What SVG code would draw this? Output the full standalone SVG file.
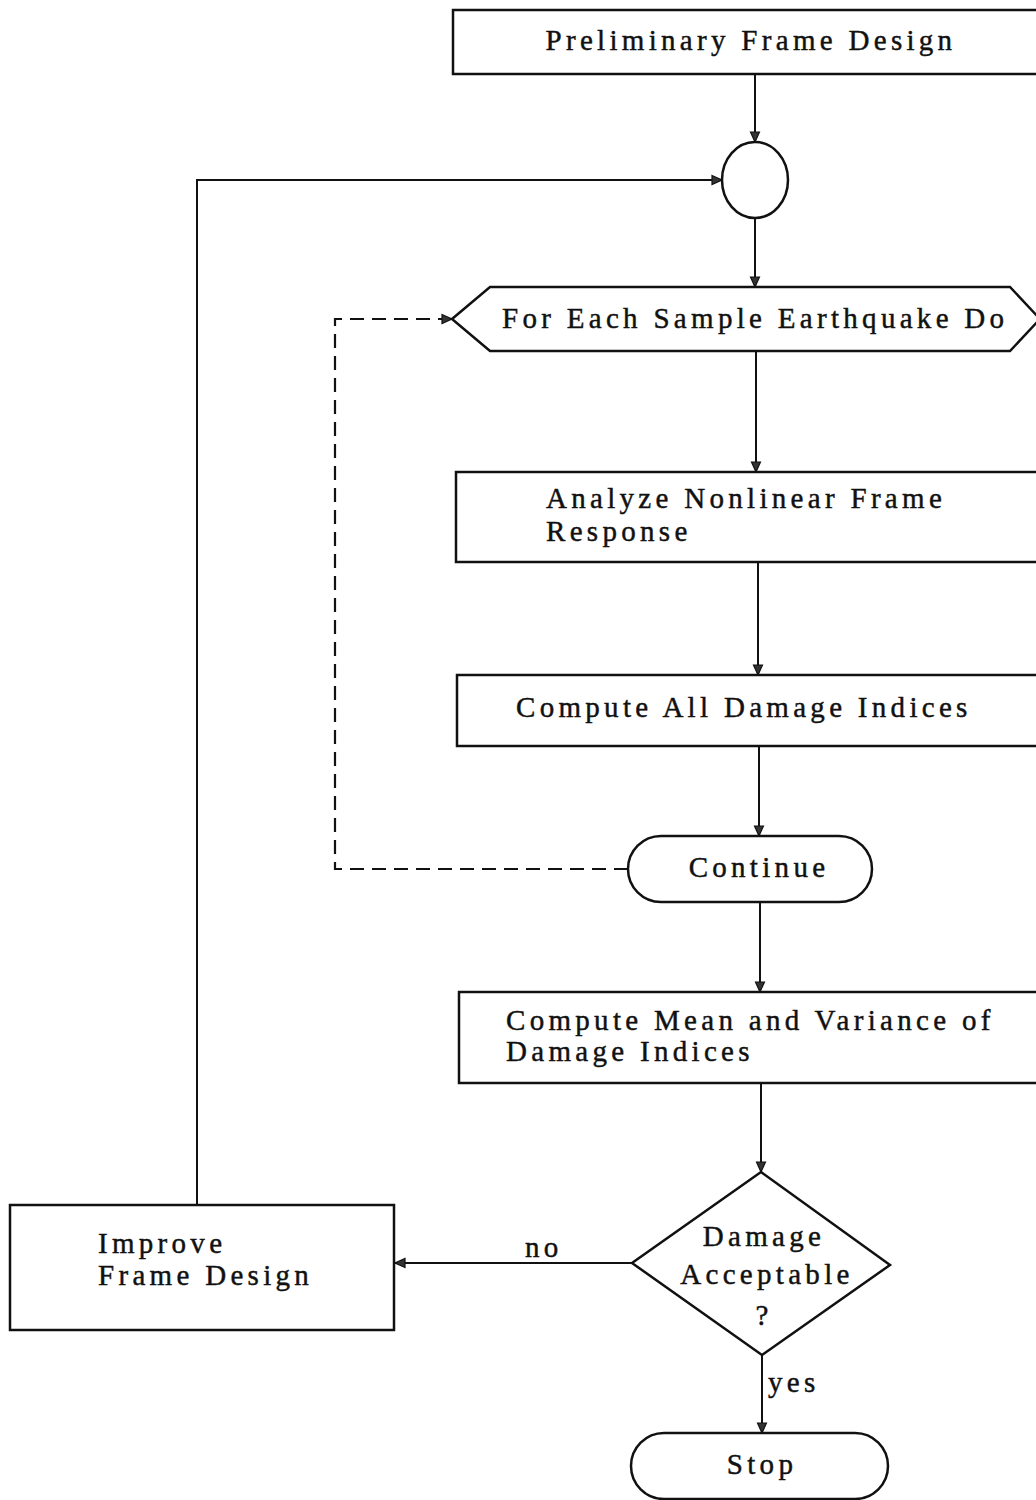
<svg xmlns="http://www.w3.org/2000/svg" width="1036" height="1500" viewBox="0 0 1036 1500">
<style>
.box{fill:#fff;stroke:#111;stroke-width:2.5}
.ln{fill:none;stroke:#111;stroke-width:2}
.dash{fill:none;stroke:#111;stroke-width:2.2;stroke-dasharray:14,8}
.t{font-family:"Liberation Serif","Times New Roman",serif;font-size:29px;letter-spacing:4.3px;fill:#111;stroke:#111;stroke-width:0.45}
.c{text-anchor:middle}
</style>
<defs>
<marker id="ah" viewBox="0 0 12 12" refX="11" refY="6" markerWidth="12" markerHeight="12" markerUnits="userSpaceOnUse" orient="auto">
<path d="M1,1.5 L11,6 L1,10.5 Z" fill="#333" stroke="#111" stroke-width="1.2"/>
</marker>
</defs>
<rect width="1036" height="1500" fill="#fff"/>
<g id="connectors">
<line class="ln" x1="755" y1="74" x2="755" y2="142" marker-end="url(#ah)"/>
<polyline class="ln" points="197,1205 197,180 722,180" marker-end="url(#ah)"/>
<line class="ln" x1="755" y1="218" x2="755" y2="287" marker-end="url(#ah)"/>
<polyline class="dash" points="628,869 335,869 335,319 452,319" marker-end="url(#ah)"/>
<line class="ln" x1="756" y1="351" x2="756" y2="472" marker-end="url(#ah)"/>
<line class="ln" x1="758" y1="562" x2="758" y2="675" marker-end="url(#ah)"/>
<line class="ln" x1="759" y1="746" x2="759" y2="836" marker-end="url(#ah)"/>
<line class="ln" x1="760" y1="902" x2="760" y2="992" marker-end="url(#ah)"/>
<line class="ln" x1="761" y1="1083" x2="761" y2="1172" marker-end="url(#ah)"/>
<line class="ln" x1="632" y1="1263" x2="395" y2="1263" marker-end="url(#ah)"/>
<line class="ln" x1="762" y1="1355" x2="762" y2="1433" marker-end="url(#ah)"/>
<text class="t" x="525" y="1257">no</text>
<text class="t" x="768" y="1392">yes</text>
</g>
<g id="n_prelim">
<rect class="box" x="453" y="10" width="590" height="64"/>
<text class="t c" x="751" y="50">Preliminary Frame Design</text>
</g>
<g id="n_junction">
<ellipse class="box" cx="755" cy="180" rx="33" ry="38"/>
</g>
<g id="n_foreach">
<polygon class="box" points="452,319 490,287 1010,287 1040,319 1010,351 490,351"/>
<text class="t" x="502" y="328">For Each Sample Earthquake Do</text>
</g>
<g id="n_analyze">
<rect class="box" x="456" y="472" width="590" height="90"/>
<text class="t" x="546" y="508">Analyze Nonlinear Frame</text>
<text class="t" x="546" y="541">Response</text>
</g>
<g id="n_computeall">
<rect class="box" x="457" y="675" width="590" height="71"/>
<text class="t" x="516" y="717">Compute All Damage Indices</text>
</g>
<g id="n_continue">
<rect class="box" x="628" y="836" width="244" height="66" rx="33" ry="33"/>
<text class="t c" x="759" y="877">Continue</text>
</g>
<g id="n_computemean">
<rect class="box" x="459" y="992" width="590" height="91"/>
<text class="t" x="506" y="1030">Compute Mean and Variance of</text>
<text class="t" x="506" y="1061">Damage Indices</text>
</g>
<g id="n_decision">
<polygon class="box" points="761,1172 890,1265 762,1355 632,1263"/>
<text class="t c" x="764" y="1246">Damage</text>
<text class="t c" x="767" y="1284">Acceptable</text>
<text class="t c" x="764" y="1325">?</text>
</g>
<g id="n_improve">
<rect class="box" x="10" y="1205" width="384" height="125"/>
<text class="t" x="98" y="1253">Improve</text>
<text class="t" x="98" y="1285">Frame Design</text>
</g>
<g id="n_stop">
<rect class="box" x="631" y="1433" width="257" height="66" rx="33" ry="33"/>
<text class="t c" x="762" y="1474">Stop</text>
</g>
</svg>
